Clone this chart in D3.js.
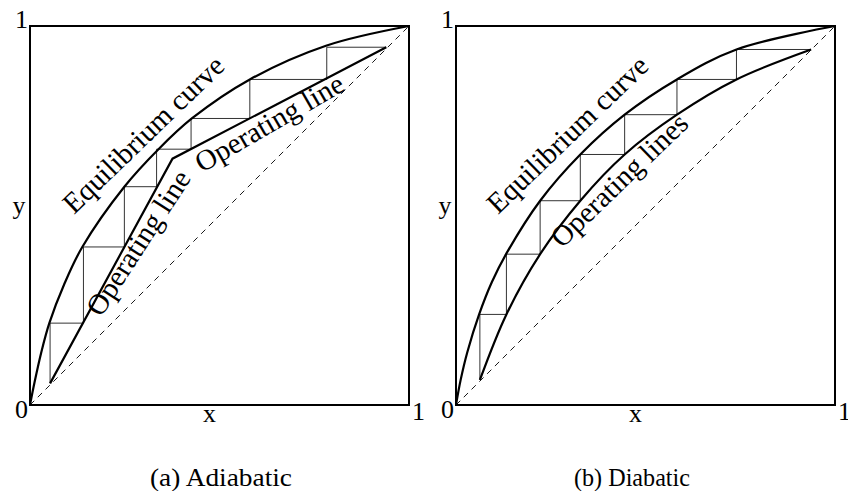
<!DOCTYPE html>
<html>
<head>
<meta charset="utf-8">
<script src="https://d3js.org/d3.v7.min.js"></script>
<style>
  body { margin: 0; background: #fff; }
  text { font-family: "Liberation Serif", "Times New Roman", serif; }
</style>
</head>
<body>
<div id="div_canvas"></div>
<script>
// values (mole fractions, 0..1)
var tickLabels = ["0", "1"];
var diagonal = [0, 1];

// (a) adiabatic
var adiaEqX = [0, 0.012, 0.03, 0.051, 0.09, 0.138, 0.249, 0.339, 0.427, 0.580, 0.781, 1];
var adiaEqY = [0, 0.06, 0.14, 0.216, 0.318, 0.417, 0.576, 0.675, 0.756, 0.859, 0.948, 1];
var adiaOpX = [0.053, 0.376, 0.940];
var adiaOpY = [0.057, 0.650, 0.944];
var adiaStepX = [0.053, 0.141, 0.249, 0.334, 0.425, 0.580, 0.783, 0.940];
var adiaStepY = [0.057, 0.216, 0.417, 0.576, 0.675, 0.756, 0.859, 0.944];

// (b) diabatic
var diaEqX = [0, 0.012, 0.03, 0.061, 0.095, 0.132, 0.222, 0.328, 0.445, 0.583, 0.740, 1];
var diaEqY = [0, 0.065, 0.14, 0.239, 0.325, 0.398, 0.539, 0.661, 0.766, 0.859, 0.938, 1];
var diaOpX = [0.063, 0.133, 0.222, 0.328, 0.445, 0.583, 0.740, 0.937];
var diaOpY = [0.066, 0.239, 0.398, 0.539, 0.661, 0.766, 0.859, 0.938];
var diaStepX = [0.063, 0.133, 0.222, 0.328, 0.445, 0.583, 0.740, 0.937];
var diaStepY = [0.066, 0.239, 0.398, 0.539, 0.661, 0.766, 0.859, 0.938];

var size = 379;

var svg = d3.select("#div_canvas").append("svg")
    .attr("width", 848)
    .attr("height", 491)

var x = d3.scaleLinear().domain([0, 1]).range([0, size]);
var y = d3.scaleLinear().domain([0, 1]).range([size, 0]);

function zip(xs, ys) {
    return xs.map(function (d, i) { return [d, ys[i]]; });
}

// staircase between equilibrium curve and operating line
function steps(xs, ys) {
    var pts = [[xs[0], ys[0]]];
    for (var i = 0; i < xs.length - 1; i++) {
        pts.push([xs[i], ys[i + 1]]);
        pts.push([xs[i + 1], ys[i + 1]]);
    }
    return pts;
}

var smooth = d3.line().x(d => x(d[0])).y(d => y(d[1])).curve(d3.curveCatmullRom.alpha(0.5));
var straight = d3.line().x(d => x(d[0])).y(d => y(d[1]));

function panel(left, eq, op, opCurve, stair, labels, caption) {
    var g = svg.append("g")
        .attr("transform", "translate(" + left + ", 26)");

    g.append("path")
        .attr("d", straight(zip(diagonal, diagonal)))
        .attr("fill", "none")
        .attr("stroke", "#000")
        .attr("stroke-width", 0.9)
        .attr("stroke-dasharray", "6,5")

    g.append("path")
        .attr("d", straight(stair))
        .attr("fill", "none")
        .attr("stroke", "#333")
        .attr("stroke-width", 1)

    g.append("path")
        .attr("d", smooth(eq))
        .attr("fill", "none")
        .attr("stroke", "#000")
        .attr("stroke-width", 2.2)

    g.append("path")
        .attr("d", (opCurve ? smooth : straight)(op))
        .attr("fill", "none")
        .attr("stroke", "#000")
        .attr("stroke-width", 2.2)

    g.append("rect")
        .attr("x", x(0)).attr("y", y(1))
        .attr("width", x(1) - x(0)).attr("height", y(0) - y(1))
        .attr("fill", "none")
        .attr("stroke", "#000")
        .attr("stroke-width", 2)

    // corner labels
    g.append("text").attr("x", x(0) - 2).attr("y", y(1) + 2)
        .attr("text-anchor", "end").attr("font-size", 26).text(tickLabels[1]);
    g.append("text").attr("x", x(0) - 2).attr("y", y(0) + 13)
        .attr("text-anchor", "end").attr("font-size", 26).text(tickLabels[0]);
    g.append("text").attr("x", x(1) + 3).attr("y", y(0) + 15)
        .attr("text-anchor", "start").attr("font-size", 26).text(tickLabels[1]);

    g.append("text").attr("x", x(0.5) - 10).attr("y", y(0) + 17)
        .attr("text-anchor", "middle").attr("font-size", 26).text("x");
    g.append("text").attr("x", x(0) - 11).attr("y", y(0.5) - 2)
        .attr("text-anchor", "middle").attr("font-size", 26).text("y");

    labels.forEach(function (l) {
        g.append("text")
            .attr("transform", "translate(" + (l.px - left) + "," + (l.py - 26) + ") rotate(" + l.angle + ")")
            .attr("font-size", 29)
            .text(l.text);
    });

    svg.append("text")
        .attr("x", caption.cx)
        .attr("y", 486)
        .attr("text-anchor", "middle")
        .attr("font-size", 25)
        .attr("textLength", caption.w)
        .attr("lengthAdjust", "spacingAndGlyphs")
        .text(caption.text);
}

panel(30, zip(adiaEqX, adiaEqY), zip(adiaOpX, adiaOpY), false, steps(adiaStepX, adiaStepY), [
    { text: "Equilibrium curve", px: 74, py: 215, angle: -44 },
    { text: "Operating line", px: 101, py: 318, angle: -57 },
    { text: "Operating line", px: 202, py: 173, angle: -30 }
], { text: "(a) Adiabatic", cx: 221, w: 142 });

panel(456, zip(diaEqX, diaEqY), zip(diaOpX, diaOpY), true, steps(diaStepX, diaStepY), [
    { text: "Equilibrium curve", px: 498, py: 215, angle: -44 },
    { text: "Operating lines", px: 562, py: 249, angle: -44 }
], { text: "(b) Diabatic", cx: 632, w: 116 });
</script>
</body>
</html>
